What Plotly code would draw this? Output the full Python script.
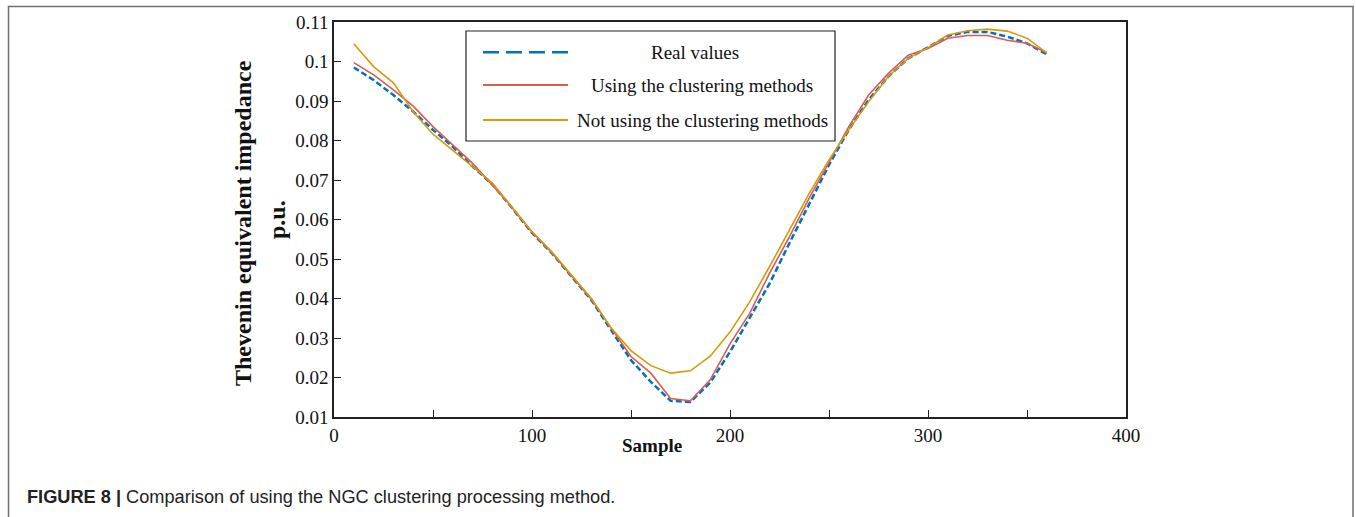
import plotly.graph_objects as go

samples = [10, 20, 30, 40, 50, 60, 70, 80, 90, 100, 110, 120, 130, 140, 150, 160, 170, 180,
           190, 200, 210, 220, 230, 240, 250, 260, 270, 280, 290, 300, 310, 320, 330, 340, 350, 360]

real_values = [0.0985, 0.0953, 0.0915, 0.0873, 0.0827, 0.0784, 0.0734, 0.0689, 0.0629, 0.0566,
               0.0515, 0.0456, 0.0396, 0.0320, 0.0244, 0.0189, 0.0141, 0.0138, 0.0187, 0.0265,
               0.0350, 0.0438, 0.0540, 0.0641, 0.0738, 0.0827, 0.0903, 0.0962, 0.1008, 0.1036,
               0.1065, 0.1075, 0.1075, 0.1063, 0.1046, 0.1018]

clustering = [0.0997, 0.0966, 0.0928, 0.0887, 0.0835, 0.0789, 0.0742, 0.0687, 0.0630, 0.0568,
              0.0516, 0.0457, 0.0398, 0.0325, 0.0253, 0.0211, 0.0147, 0.0141, 0.0194, 0.0285,
              0.0363, 0.0464, 0.0556, 0.0654, 0.0746, 0.0835, 0.0915, 0.0970, 0.1016, 0.1033,
              0.1059, 0.1066, 0.1066, 0.1054, 0.1046, 0.1022]

no_clustering = [0.1045, 0.0987, 0.0946, 0.0873, 0.0816, 0.0776, 0.0734, 0.0692, 0.0629, 0.0569,
                 0.0518, 0.0459, 0.0400, 0.0325, 0.0268, 0.0230, 0.0211, 0.0217, 0.0254, 0.0315,
                 0.0392, 0.0481, 0.0573, 0.0666, 0.0751, 0.0827, 0.0898, 0.0962, 0.1008, 0.1035,
                 0.1067, 0.1078, 0.1082, 0.1077, 0.1059, 0.1022]

series_names = ["Real values", "Using the clustering methods", "Not using the clustering methods"]

x_tickvals = [0, 50, 100, 150, 200, 250, 300, 350, 400]
x_ticktext = ["0", "", "100", "", "200", "", "300", "", "400"]
y_tickvals = [0.01, 0.02, 0.03, 0.04, 0.05, 0.06, 0.07, 0.08, 0.09, 0.10, 0.11]
y_ticktext = ["0.01", "0.02", "0.03", "0.04", "0.05", "0.06", "0.07", "0.08", "0.09", "0.1", "0.11"]

BLUE = "#0072BD"
RED = "#DE5A52"
GOLD = "#D99A0A"
SERIF = "Liberation Serif, Times New Roman, serif"
SANS = "Liberation Sans, Arial, sans-serif"

fig = go.Figure()
fig.add_trace(go.Scatter(x=samples, y=real_values, mode="lines", name=series_names[0],
                         line=dict(color=BLUE, width=2.5, dash="6px,3px"), showlegend=False))
fig.add_trace(go.Scatter(x=samples, y=clustering, mode="lines", name=series_names[1],
                         line=dict(color=RED, width=1.6), showlegend=False))
fig.add_trace(go.Scatter(x=samples, y=no_clustering, mode="lines", name=series_names[2],
                         line=dict(color=GOLD, width=1.6), showlegend=False))

W, H = 1356, 517
L, R, T, B = 334, 1126, 22, 417


def px(xp):
    return (xp - L) / (R - L)


def py(yp):
    return (B - yp) / (B - T)


shapes = []
# outer figure frame (left, top, right)
shapes.append(dict(type="path", xref="paper", yref="paper",
                   path=f"M {px(8.5)},{py(560)} L {px(8.5)},{py(6.5)} L {px(1353)},{py(6.5)} L {px(1353)},{py(560)}",
                   line=dict(color="#707070", width=1.5)))
# legend box
shapes.append(dict(type="rect", xref="paper", yref="paper",
                   x0=px(466), x1=px(835), y0=py(141), y1=py(31),
                   line=dict(color="#222222", width=1.2), fillcolor="white"))
legend_y = [52.3, 85.0, 120.0]
legend_styles = [dict(color=BLUE, width=2.5, dash="16px,7px"),
                 dict(color=RED, width=2),
                 dict(color=GOLD, width=2)]
for yy, st in zip(legend_y, legend_styles):
    shapes.append(dict(type="line", xref="paper", yref="paper",
                       x0=px(483), x1=px(568), y0=py(yy), y1=py(yy), line=st))

annotations = []
legend_cx = [695, 702, 702.5]
for name, yy, cx in zip(series_names, legend_y, legend_cx):
    annotations.append(dict(text=name, xref="paper", yref="paper", x=px(cx), y=py(yy + 0.5),
                            xanchor="center", yanchor="middle", showarrow=False,
                            font=dict(family=SERIF, size=19, color="#111111")))

annotations.append(dict(text="<b>Thevenin equivalent impedance</b>", xref="paper", yref="paper",
                        x=px(243), y=py(223), xanchor="center", yanchor="middle", textangle=-90,
                        showarrow=False, font=dict(family=SERIF, size=24, color="#111111")))
annotations.append(dict(text="<b>p.u.</b>", xref="paper", yref="paper",
                        x=px(277), y=py(220), xanchor="center", yanchor="middle", textangle=-90,
                        showarrow=False, font=dict(family=SERIF, size=24, color="#111111")))
annotations.append(dict(text="<b>Sample</b>", xref="paper", yref="paper",
                        x=px(652), y=py(445), xanchor="center", yanchor="middle",
                        showarrow=False, font=dict(family=SERIF, size=19, color="#111111")))
annotations.append(dict(text="<b>FIGURE 8 |</b> Comparison of using the NGC clustering processing method.",
                        xref="paper", yref="paper", x=px(25), y=py(497), xanchor="left", yanchor="middle",
                        showarrow=False, font=dict(family=SANS, size=18.2, color="#222222")))

fig.update_layout(
    width=W, height=H,
    margin=dict(l=L, r=W - R, t=T, b=H - B, pad=0),
    paper_bgcolor="white", plot_bgcolor="white",
    showlegend=False,
    shapes=shapes, annotations=annotations,
    xaxis=dict(range=[0, 400], tickvals=x_tickvals, ticktext=x_ticktext,
               ticks="inside", ticklen=7, tickwidth=1.3, tickcolor="#222222",
               showline=True, linecolor="#222222", linewidth=1.5, mirror=True,
               showgrid=False, zeroline=False, ticklabelstandoff=0,
               tickfont=dict(family=SERIF, size=19, color="#111111")),
    yaxis=dict(range=[0.01, 0.11], tickvals=y_tickvals, ticktext=y_ticktext,
               ticks="inside", ticklen=7, tickwidth=1.3, tickcolor="#222222",
               showline=True, linecolor="#222222", linewidth=1.5, mirror=True,
               showgrid=False, zeroline=False, ticklabelstandoff=0,
               tickfont=dict(family=SERIF, size=19, color="#111111")),
)

fig.write_html("out.html", config={"displayModeBar": False},
               post_script="document.body.style.margin='0';document.body.style.overflow='hidden';")
